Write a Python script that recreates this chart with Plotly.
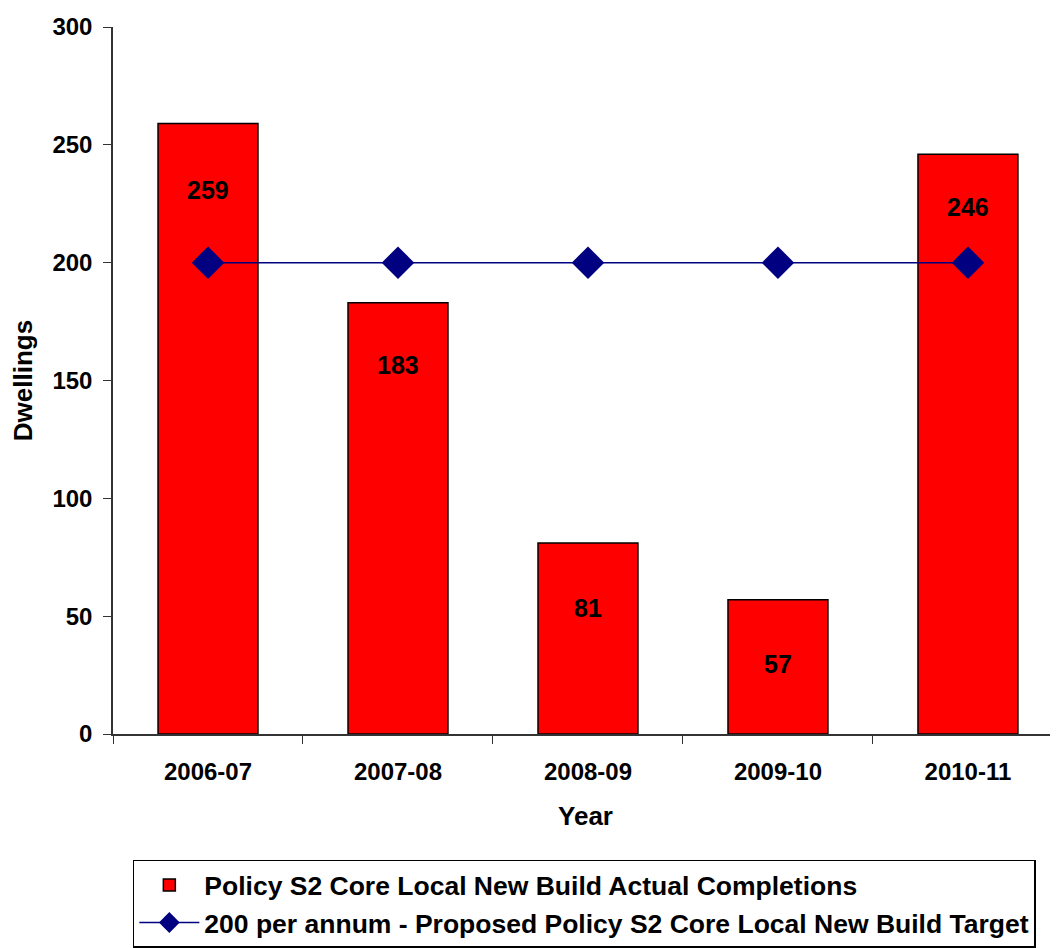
import plotly.graph_objects as go

years = ["2006-07", "2007-08", "2008-09", "2009-10", "2010-11"]
completions = [259, 183, 81, 57, 246]
target = [200, 200, 200, 200, 200]
y_ticks = [0, 50, 100, 150, 200, 250, 300]

# label offsets (pixels below bar top), as drawn in the original
label_shift = [-66, -62, -65, -64, -53]

FONT = "Liberation Sans, Arial, sans-serif"

fig = go.Figure()
fig.add_trace(go.Bar(
    x=years, y=completions,
    name="Policy S2 Core Local New Build Actual Completions",
    marker=dict(color="#ff0000", line=dict(color="#000000", width=1.5)),
    width=0.526,
))
fig.add_trace(go.Scatter(
    x=years, y=target, mode="lines+markers",
    name="200 per annum - Proposed Policy S2 Core Local New Build Target",
    line=dict(color="#000080", width=1.5),
    marker=dict(symbol="diamond", size=25, color="#000080"),
))

for yr, v, s in zip(years, completions, label_shift):
    fig.add_annotation(x=yr, y=v, text=str(v), showarrow=False, yshift=s,
                       font=dict(family=FONT, size=25, color="black", weight="bold"))

fig.update_layout(
    width=1050, height=940,
    margin=dict(l=105, r=0, t=19, b=212),
    paper_bgcolor="white", plot_bgcolor="white",
    font=dict(family=FONT, size=24, color="black", weight="bold"),
    showlegend=True,
    legend=dict(x=0.021, y=-0.178, xanchor="left", yanchor="top",
                bordercolor="black", borderwidth=1.5,
                font=dict(family=FONT, size=26.5, color="black", weight="bold"),
                tracegroupgap=2, itemwidth=60, entrywidth=870, entrywidthmode="pixels"),
    xaxis=dict(
        type="category", range=[-0.5, 4.474], tickson="boundaries",
        ticks="outside", ticklen=8, tickcolor="#333", tickwidth=1.2,
        showline=True, linecolor="#333", linewidth=1.5,
        showgrid=False, zeroline=False, automargin=False, ticklabelstandoff=15,
        tickfont=dict(family=FONT, size=24, weight="bold"),
        title=dict(text="Year", font=dict(family=FONT, size=26, weight="bold"), standoff=23),
    ),
    yaxis=dict(
        range=[0, 300], tickvals=y_ticks, ticks="outside", ticklen=8,
        tickcolor="#333", tickwidth=1.2, showline=True, linecolor="#333", linewidth=1.5,
        showgrid=False, zeroline=False, automargin=False, ticklabelstandoff=6,
        tickfont=dict(family=FONT, size=24, weight="bold"),
        title=dict(text="Dwellings", font=dict(family=FONT, size=26, weight="bold"), standoff=13),
    ),
    xaxis2=dict(
        overlaying="x", range=[-0.5, 4.474], tickmode="linear", tick0=-0.5, dtick=1,
        ticks="inside", ticklen=8, tickcolor="#333", tickwidth=1.2,
        showticklabels=False, showgrid=False, zeroline=False, showline=False,
        side="bottom", automargin=False,
    ),
    yaxis2=dict(
        overlaying="y", range=[0, 300], tickvals=y_ticks,
        ticks="inside", ticklen=8, tickcolor="#333", tickwidth=1.2,
        showticklabels=False, showgrid=False, zeroline=False, showline=False,
        side="left", automargin=False,
    ),
)

fig.write_html("out.html")
